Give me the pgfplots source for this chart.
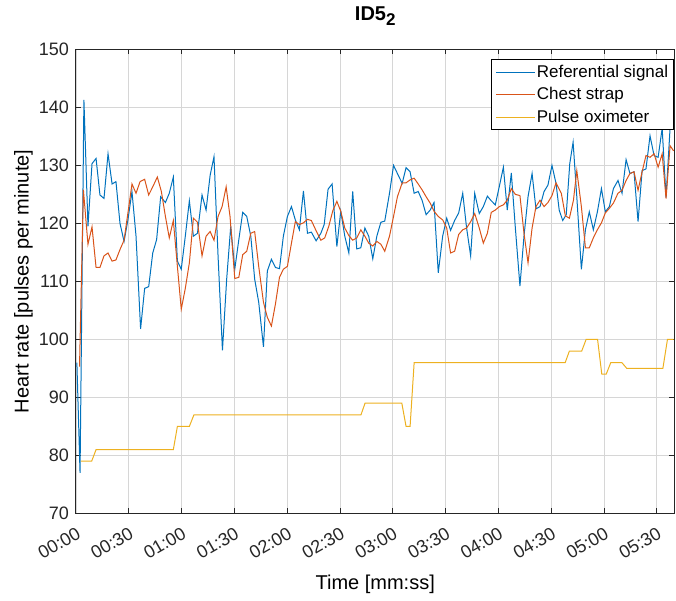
\documentclass[border=0pt]{standalone}
\usepackage{fontspec}
\setmainfont{Liberation Sans}
\usepackage{pgfplots}
\pgfplotsset{compat=1.18}
\usetikzlibrary{calc}
\definecolor{mblue}{HTML}{0072BD}
\definecolor{mred}{HTML}{D95319}
\definecolor{myellow}{HTML}{EDB120}
\definecolor{axgray}{HTML}{262626}

% referential signal
\pgfplotstableread{
t v
0.5 96
2.3 77
4.5 141.3
6.8 119.5
9.1 130.3
11.4 131.2
13.6 124.9
15.9 124.3
18.2 132
20.5 126.8
22.7 127.2
25 120
27.3 116.9
29.5 120.6
31.8 125.5
34.1 117.8
36.7 101.8
39 108.8
41.3 109.1
43.6 114.9
45.8 117.2
48.1 124.6
50.8 123.6
53 125.2
55.3 128
57.6 113.5
59.8 112.1
62.1 117.8
64.4 123.9
66.7 117.8
69 118.3
71.6 124.9
73.9 122.3
76.2 128.3
78.4 131.5
80.7 114.4
83.2 98.1
85.6 110.4
87.9 119.5
90.2 112.1
92.5 117.2
94.7 121.9
97 121.2
99.3 117.8
101.5 110.4
103.8 106.4
106.5 98.7
108.7 111.8
111 113.8
113.3 112.4
115.6 112.2
117.8 117.8
120.1 121.2
122.4 122.9
124.6 120.6
126.9 118.9
129.2 125.6
131.5 118.3
133.7 118.5
136.4 117
139.1 118.3
141 119.8
143.2 125.9
145.5 126.8
148.2 116
150.4 122.1
152.7 117.8
155 114.9
157.2 125.5
159.5 115.6
161.8 115.8
164.1 119.2
166.3 117.8
168.6 113.9
170.9 117.8
173.2 120.2
175.4 120.4
178.1 125.2
180.4 130
182.6 128.6
185.3 126.9
187.5 129.6
189.8 128.9
192.1 125.2
194.4 125.5
196.6 124
198.9 121.5
201.2 122.3
203.4 123.6
205.8 111.5
208.3 117.8
210.6 120.9
212.8 118.8
215.1 120.5
217.4 121.8
219.7 125.2
221.9 119.2
224.2 114.4
226.5 125.2
229.1 121.7
231.4 122.9
233.7 124.7
235.9 123.9
238.2 123.2
240.5 126.4
242.8 129.7
245 122.3
247.3 128.7
249.6 119.2
252.2 109.2
254.5 117.8
256.8 124.6
259.1 128.6
261.3 122.5
263.6 122.9
265.9 125.5
268.1 126.6
270.4 130
272.7 126.9
274.5 122.3
276.5 120.5
278.5 121.5
280.5 130.3
282.4 134
284.5 124.6
287.1 112.1
289.4 118.9
291.6 122
293.9 118.9
296.2 122
298.5 126
300.7 122
303 122.9
305.3 126
307.9 127.4
310.2 125.2
312.5 131
314.7 128.6
317 128.9
319.3 120.3
321.6 129.1
323.8 129.4
326.1 135.1
328.4 131.7
330.7 131.4
333 136.4
335.2 124.5
337.5 136.5
339.5 137
}\refsig

% chest strap
\pgfplotstableread{
t v
2 95.3
4.2 125.8
6.8 116.4
9.1 119.4
11.4 112.4
13.6 112.4
15.9 114.4
18.2 114.9
20.5 113.5
22.7 113.7
25 115.5
27.3 117.1
29.5 121.8
31.8 126.8
34.1 125.2
36.4 127.2
39 127.6
41.3 124.9
43.6 126.3
46.2 128
48.5 125.5
50.8 121.2
53 117.5
55.3 120.5
57.6 112.6
59.8 105.2
62.1 108.8
64.4 113.2
66.7 120.9
69 120.2
71.6 114.4
73.9 117.8
76.2 118.6
78.4 117.1
80.7 121.2
83 122.9
85.3 126.3
87.5 121.2
90.2 110.5
92.5 110.7
94.7 114.6
97 115.2
99.3 118.3
101.5 118.6
103.8 112.6
106.5 106.4
108.7 103.8
111 102.3
113.3 106.1
115.6 110.7
117.8 112.1
120.1 112.6
122.4 116.6
124.6 120.3
126.9 119.8
129.2 120.1
131.5 120.7
133.7 120.5
136 119
139.1 117.1
141.3 117.5
143.6 119.5
145.9 122.2
148.2 123.8
150.4 122.1
152.7 119.2
155 117.9
157.2 117.1
159.5 117.5
161.8 118.9
164.1 117.8
166.3 116.6
168.6 116.1
170.9 116.9
173.2 116.4
175.4 115.2
178.1 117.8
180.4 121.2
182.6 124.6
185.3 127
187.5 127
189.8 127.5
192.1 127.8
194.4 126.8
196.6 125.8
198.9 124.6
201.2 123.5
203.4 122.1
205.8 121.2
208.3 120.6
210.6 119.2
212.8 114.9
215.1 115.2
217.4 118.1
219.7 118.9
221.9 119.2
224.2 120.3
226.5 121.7
229.1 119.2
231.4 116.6
233.7 118.3
235.9 121.9
238.2 122.3
240.5 122.9
242.8 123.2
245 124
247.3 126
249.6 125
252.2 124.8
254.5 118.3
256.8 113.2
259.1 119.2
261.3 122.9
263.6 124
265.9 122.9
268.1 123.6
270.4 124.8
272.7 127
275.7 125.2
278 121.3
280.3 120.9
282.6 124
284.5 129.1
287.1 122.9
289.4 115.8
291.6 115.8
293.9 117.5
296.2 118.9
298.5 120.1
300.7 121.8
303 122.6
305.3 123.5
307.9 125.2
310.2 125.7
312.5 127.4
314.7 128.6
317 128.9
319.3 125.7
321.6 128.9
323.8 131.7
326.1 131.4
328.4 132
330.7 129.7
333 132
335.2 124.3
337.5 133.4
339.5 132.5
}\chest

% pulse oximeter
\pgfplotstableread{
t v
2.7 79
8.9 79
11.4 81
55.3 81
57.6 85
64.4 85
67 87
161.9 87
164.2 89
185.1 89
187.5 85
189.8 85
192.1 96
277.9 96
280.3 98
287.3 98
289.8 100
296.3 100
298.7 94
301.2 94
303.8 96
310.1 96
312.9 95
333.4 95
336 100
339.5 100
}\oxi

\begin{document}
\begin{tikzpicture}
\begin{axis}[
    name=ax,
    scale only axis,
    width=299.25pt, height=232pt,
    xmin=0, xmax=340, ymin=70, ymax=150,
    xtick={0,30,...,330},
    xticklabels={00:00,00:30,01:00,01:30,02:00,02:30,03:00,03:30,04:00,04:30,05:00,05:30},
    ytick={70,80,...,150},
    /pgf/number format/assume math mode=true,
    tick align=inside,
    major tick length=2.5pt,
    grid=major,
    major grid style={black!16, line width=0.4pt},
    axis line style={axgray, line width=0.5pt},
    tick style={axgray, line width=0.5pt},
    tick label style={font=\fontsize{9}{10}\selectfont, text=axgray},
    xticklabel style={rotate=30, anchor=north east, yshift=-2pt},
    title={\bfseries ID5\raisebox{-0.45ex}{\fontsize{8.5}{9}\selectfont 2}},
    title style={at={(axis description cs:0.5,1)}, anchor=base, yshift=8.5pt, font=\fontsize{10}{11}\selectfont},
    xlabel={Time [mm:ss]},
    xlabel style={at={(axis description cs:0.5,-0.153)}, anchor=center, font=\fontsize{10}{11}\selectfont},
    ylabel={Heart rate [pulses per minute]},
    ylabel style={at={(axis description cs:-0.088,0.5)}, anchor=center, font=\fontsize{10}{11}\selectfont},
    legend cell align=left,
    legend image code/.code={\draw[#1] (0pt,0pt) -- (19.5pt,0pt);},
    legend style={at={(axis description cs:1,1)}, anchor=north east,
        xshift=-0.3pt, yshift=-5pt, draw=black, line width=0.5pt,
        font=\fontsize{8.5}{9}\selectfont, inner xsep=2pt, inner ysep=1.5pt,
        row sep=1.75pt,
        nodes={inner sep=0.6pt, text height=6.5pt, text depth=1.8pt}},
]
\addplot[mblue, line width=0.5pt] table[x=t, y=v] {\refsig};
\addlegendentry{Referential signal}
\addplot[mred, line width=0.5pt] table[x=t, y=v] {\chest};
\addlegendentry{Chest strap}
\addplot[myellow, line width=0.5pt] table[x=t, y=v] {\oxi};
\addlegendentry{Pulse oximeter}
\end{axis}
\path ($(ax.south west)+(-38pt,-41.5pt)$) rectangle ($(ax.north east)+(0.75pt,21.35pt)$);
\end{tikzpicture}
\end{document}
